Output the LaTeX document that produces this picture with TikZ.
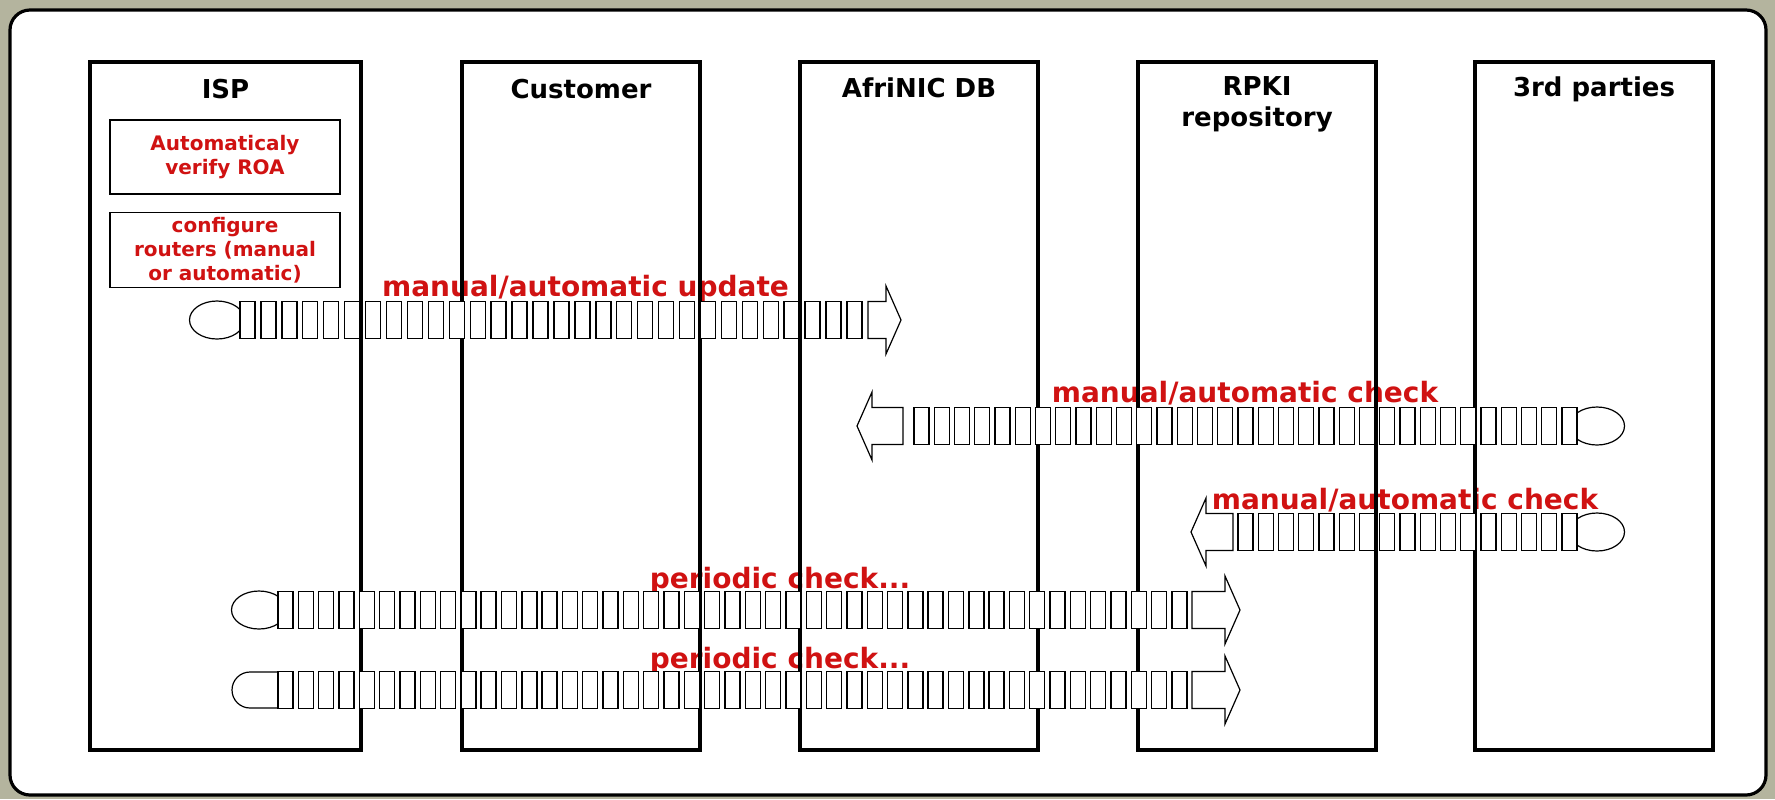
\documentclass[tikz,border=0pt]{standalone}
\usepackage{fontspec}
\setmainfont{DejaVu Sans}
\usepackage{tikz}
\usetikzlibrary{positioning,shapes.geometric,shapes.misc,decorations.markings}
\definecolor{lblred}{RGB}{208,18,18}
\definecolor{bgkhaki}{RGB}{180,180,158}

\tikzset{
  lane/.style={draw, line width=1.8pt, minimum width=119pt, minimum height=344pt, inner sep=0pt, outer sep=0pt},
  lanetitle/.style={font=\fontsize{13}{15.5}\selectfont\bfseries, align=center, inner sep=0pt},
  taskbox/.style={draw, line width=0.7pt, minimum width=115pt, minimum height=37pt, align=center, text=lblred, font=\fontsize{10}{12}\selectfont\bfseries, inner sep=0pt},
  msglabel/.style={text=lblred, font=\fontsize{14}{16}\selectfont\bfseries, inner sep=0pt, anchor=base},
  chainbox/.style={draw, line width=0.7pt, fill=white},
  srccap/.style={draw, ellipse, line width=0.6pt, minimum width=27.5pt, minimum height=19pt, inner sep=0pt},
  boxtrain/.style n args={3}{decoration={markings, mark=between positions #1 and #2 step #3 with {\draw[chainbox] (-3.75pt,-9.25pt) rectangle (3.75pt,9.25pt);}}, decorate},
  pics/blockhead/.style={code={\draw[line width=0.6pt, fill=white] (0,0) -- (-15,-34) -- (-15,-18.5) -- (-#1,-18.5) -- (-#1,18.5) -- (-15,18.5) -- (-15,34) -- cycle;}}
}

\begin{document}
\begin{tikzpicture}[x=0.5pt,y=-0.5pt]
\useasboundingbox (0,0) rectangle (1775,799);
\fill[bgkhaki] (0,0) rectangle (1775,799);
\draw[line width=1.6pt, fill=white, rounded corners=10pt] (10,10) rectangle (1766,795);

% message labels
\node[msglabel] (lbl1) at (585.5,296) {manual/automatic update};
\node[msglabel] (lbl2) at (1245,402) {manual/automatic check};
\node[msglabel] (lbl3) at (1405,509) {manual/automatic check};
\node[msglabel] (lbl4) at (780,588) {periodic check...};
\node[msglabel] (lbl5) at (780,668) {periodic check...};

% lanes
\node[lane, minimum width=135.5pt] (isp) at (225.5,406) {};
\node[lane, right=50.5pt of isp] (cust) {};
\node[lane, right=50pt of cust] (afrinic) {};
\node[lane, right=50pt of afrinic] (rpki) {};
\node[lane, right=49.5pt of rpki] (third) {};

\node[lanetitle, anchor=base] (tisp) at ([yshift=-18pt]isp.north) {ISP};
\node[lanetitle, anchor=base] (tcust) at ([yshift=-18pt]cust.north) {Customer};
\node[lanetitle, anchor=base] (tafrinic) at ([yshift=-17.5pt]afrinic.north) {AfriNIC DB};
\node[lanetitle, anchor=base] (trpki) at ([yshift=-32pt]rpki.north) {RPKI\\repository};
\node[lanetitle, anchor=base] (tthird) at ([yshift=-17pt]third.north) {3rd parties};

\node[taskbox] (verify) at (225,157) {Automaticaly\\verify ROA};
\node[taskbox, minimum height=37.5pt, below=8.5pt of verify] (config) {configure\\routers (manual\\or automatic)};

% start caps
\node[srccap] (src1) at (217,320) {};
\node[srccap] (src2) at (1597,426) {};
\node[srccap] (src3) at (1597,532) {};
\node[srccap] (src4) at (259,610) {};
\node[draw, rounded rectangle, rounded rectangle right arc=none, line width=0.6pt, minimum width=23pt, minimum height=18pt, inner sep=0pt] (src5) at (255,690) {};

\coordinate (tip1) at (901,320);
\coordinate (tip2) at (857,426);
\coordinate (tip3) at (1191,532);
\coordinate (tip4) at (1240,610);
\coordinate (tip5) at (1240,690);

% box trains
\path[boxtrain={15.25pt}{319pt}{10.465pt}] (src1.center) -- (tip1);
\path[boxtrain={13.75pt}{338pt}{10.125pt}] (src2.center) -- (tip2);
\path[boxtrain={13.75pt}{176pt}{10.125pt}] (src3.center) -- (tip3);
\path[boxtrain={13.25pt}{460.5pt}{10.159pt}] (src4.center) -- (tip4);
\path[boxtrain={15.25pt}{462.5pt}{10.159pt}] (src5.center) -- (tip5);

\pic at (tip1) {blockhead=33};
\pic[xscale=-1] at (tip2) {blockhead=46};
\pic[xscale=-1] at (tip3) {blockhead=42};
\pic at (tip4) {blockhead=48};
\pic at (tip5) {blockhead=48};
\end{tikzpicture}
\end{document}
